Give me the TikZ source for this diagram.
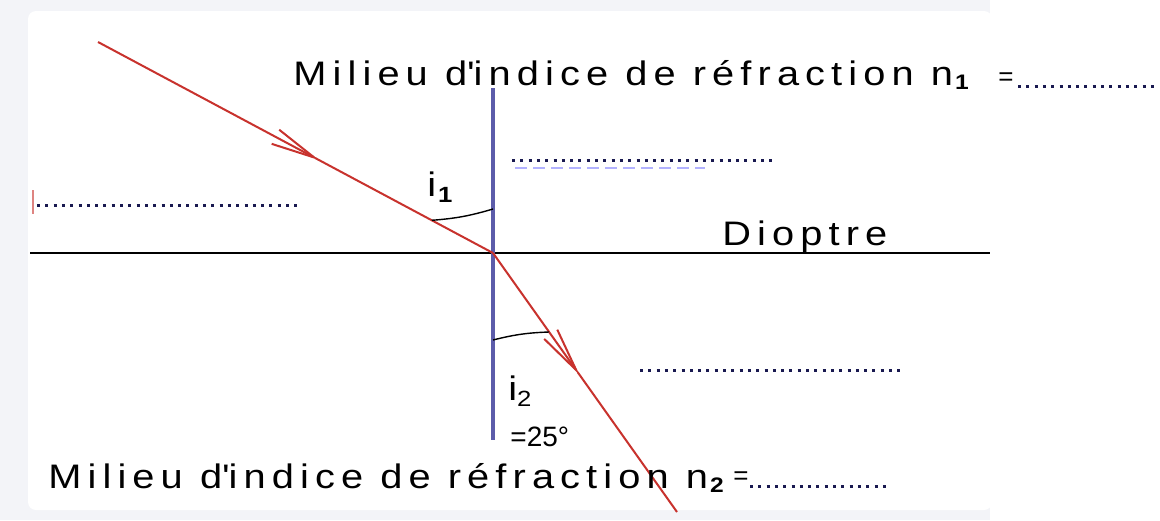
\documentclass[tikz,border=0pt]{standalone}
\usepackage{fontspec}
\setmainfont{Liberation Sans}
\newfontfamily\widefont[FakeStretch=1.17,LetterSpace=18]{Liberation Sans}
\usepackage{tikz}
\usetikzlibrary{arrows.meta,calc}

\definecolor{raycol}{RGB}{200,50,45}
\definecolor{normcol}{RGB}{92,92,170}
\definecolor{dotcol}{RGB}{25,25,80}
\definecolor{panelgray}{RGB}{243,244,248}

\tikzset{
  ray/.style={raycol,line width=1pt},
  dotline/.style={dotcol,line width=1.5pt,dash pattern=on 1.5pt off 2.65pt},
  bigtext/.style={font=\widefont\fontsize{17}{20}\selectfont,inner sep=0pt,anchor=base west},
  smalltext/.style={font=\fontsize{14}{16}\selectfont,inner sep=0pt,anchor=base west},
  eqtext/.style={font=\fontsize{13}{15}\selectfont,inner sep=0pt}
}

\begin{document}
\begin{tikzpicture}[x=0.5pt,y=-0.5pt,>={Straight Barb[length=22pt,width=8pt]}]
\useasboundingbox (0,0) rectangle (1160,520);
% panel
\fill[panelgray] (0,0) rectangle (990,520);
\fill[white,rounded corners=4pt] (28,11) rectangle (992,510);
\coordinate (O) at (493,253);
\coordinate (S) at (98,42);
\coordinate (E) at (677,512);
\coordinate (N1) at (493,88);
\coordinate (N2) at (493,440);
\coordinate (D1) at (30,253);
\coordinate (D2) at (990,253);
% dioptre and normal
\draw[line width=1.3pt] (D1) -- (D2);
\draw[normcol,line width=2pt] (N1) -- (N2);
% rays
\draw[ray,->] (S) -- ($(S)!0.56!(O)$);
\draw[ray] ($(S)!0.55!(O)$) -- (O);
\draw[ray,->] (O) -- ($(O)!0.47!(E)$);
\draw[ray] ($(O)!0.46!(E)$) -- (E);
% angles
\coordinate (A1) at (493,209);
\coordinate (A2) at (493,340);
\draw[line width=0.7pt] ($(S)!0.845!(O)$) to[bend right=6] (A1);
\draw[line width=0.7pt] (A2) to[bend left=6] ($(O)!0.305!(E)$);
\node[bigtext] (i1) at (427,196) {i\kern1pt\raisebox{-3pt}{\fontsize{11}{11}\selectfont\bfseries 1}};
\node[bigtext] (i2) at (508,400) {i\raisebox{-3pt}{\fontsize{11}{11}\selectfont 2}};
\node[smalltext] (ang) at (510,446) {=25°};
% labels
\node[bigtext] (milieu1) at (293,85) {Milieu d\textquotesingle indice de réfraction n\kern1pt\raisebox{-2pt}{\fontsize{10.5}{11}\selectfont\bfseries 1}};
\node[bigtext] (milieu2) at (48,488) {Milieu d\textquotesingle indice de réfraction n\kern1pt\raisebox{-2pt}{\fontsize{10.5}{11}\selectfont\bfseries 2}};
\node[bigtext] (dioptre) at (722,245) {Dioptre};
\node[eqtext] (eq1) at (1006,79) {=};
\node[eqtext] (eq2) at (741,478) {=};
% blanks to fill
\draw[raycol!60,line width=1pt] (33,190) -- (33,214);
\draw[dotline] (37,205) -- (298,205);
\draw[dotline] (512,160) -- (772,160);
\draw[blue!30,line width=1.2pt,dash pattern=on 6pt off 3pt] (515,168) -- (705,168);
\draw[dotline] (640,370) -- (900,370);
\draw[dotline] (1018,86) -- (1155,86);
\draw[dotline] (750,486) -- (890,486);
\end{tikzpicture}
\end{document}
